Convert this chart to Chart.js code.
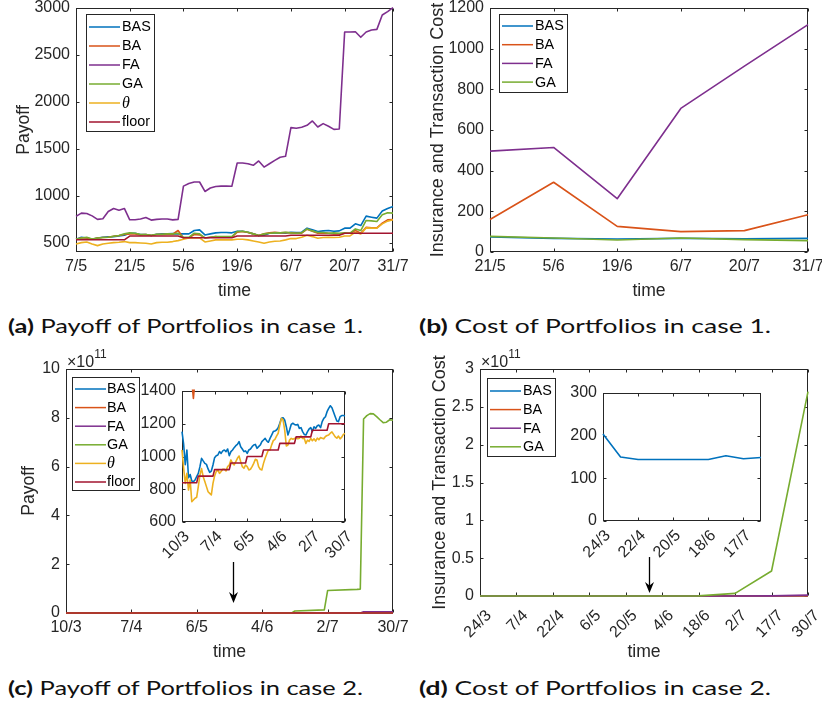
<!DOCTYPE html>
<html>
<head>
<meta charset="utf-8">
<title>Payoff and cost of portfolios</title>
<script src="https://cdn.jsdelivr.net/npm/chart.js@4.4.1/dist/chart.umd.min.js"></script>
<style>
html, body { margin: 0; padding: 0; background: #fff; }
#fig { position: relative; width: 822px; height: 711px; overflow: hidden; background: #fff; }
#fig canvas { position: absolute; left: 0; top: 0; }
.cap { position: absolute; font-family: Lato, "Noto Sans", sans-serif; font-size: 19px; line-height: 24px;
       color: #111; white-space: nowrap; transform-origin: 0 50%; }
.cap b { font-weight: 700; }
</style>
</head>
<body>
<div id="fig">
  <div class="cap" data-w="355" style="left:8px;top:314px"><b>(a)</b> Payoff of Portfolios in case 1.</div>
  <div class="cap" data-w="352" style="left:419px;top:314px"><b>(b)</b> Cost of Portfolios in case 1.</div>
  <div class="cap" data-w="355" style="left:8px;top:676px"><b>(c)</b> Payoff of Portfolios in case 2.</div>
  <div class="cap" data-w="352" style="left:419px;top:676px"><b>(d)</b> Cost of Portfolios in case 2.</div>
</div>
<script>
// ---------- case 1: payoff (daily) ----------
const payoffDates1 = ['7/5', '21/5', '5/6', '19/6', '6/7', '20/7', '31/7'];
const payoffDateIdx1 = [0, 10, 20, 30, 40, 50, 59];
const payoffBAS1 = [536, 557, 550, 536, 550, 557, 561, 564, 571, 579,
  600, 600, 586, 586, 575, 589, 593, 593, 596, 593,
  593, 593, 629, 636, 582, 593, 604, 607, 607, 604,
  621, 621, 611, 593, 575, 579, 600, 604, 604, 600,
  611, 607, 611, 654, 636, 618, 625, 629, 621, 625,
  654, 654, 700, 682, 782, 771, 761, 836, 864, 886];
const payoffBA1 = [536, 550, 550, 536, 550, 554, 557, 568, 575, 586,
  593, 593, 582, 586, 575, 586, 586, 589, 589, 629,
  550, 550, 586, 582, 550, 557, 564, 557, 557, 557,
  611, 618, 607, 593, 575, 593, 604, 611, 604, 607,
  604, 600, 600, 643, 621, 600, 604, 600, 593, 593,
  600, 600, 629, 600, 664, 657, 657, 707, 743, 746];
const payoffFA1 = [779, 814, 811, 785, 748, 754, 832, 864, 846, 864,
  743, 743, 752, 768, 740, 748, 752, 752, 742, 748,
  1102, 1130, 1146, 1146, 1045, 1082, 1098, 1102, 1102, 1100,
  1348, 1348, 1340, 1324, 1370, 1305, 1340, 1376, 1410, 1420,
  1725, 1718, 1730, 1750, 1796, 1732, 1768, 1740, 1707, 1710,
  2744, 2744, 2747, 2688, 2744, 2765, 2772, 2925, 2962, 3005];
const payoffGA1 = [536, 550, 557, 539, 550, 554, 557, 568, 575, 593,
  604, 600, 586, 586, 579, 589, 589, 593, 593, 600,
  557, 557, 600, 593, 550, 557, 564, 564, 564, 564,
  618, 621, 611, 593, 575, 593, 600, 604, 604, 611,
  604, 600, 604, 646, 625, 607, 607, 600, 604, 600,
  604, 600, 646, 629, 736, 732, 725, 796, 818, 814];
const payoffTheta1 = [486, 500, 507, 486, 468, 486, 493, 500, 504, 511,
  500, 500, 496, 493, 486, 500, 504, 504, 511, 521,
  536, 550, 550, 550, 507, 518, 529, 529, 529, 529,
  536, 536, 529, 518, 507, 493, 507, 514, 518, 529,
  543, 543, 557, 579, 564, 546, 554, 557, 554, 557,
  571, 571, 611, 593, 657, 654, 654, 700, 729, 743];
const payoffFloor1 = [530, 530, 530, 530, 530, 530, 530, 530, 530, 530,
  570, 570, 570, 570, 570, 570, 570, 570, 570, 570,
  552, 552, 552, 552, 552, 552, 552, 552, 552, 552,
  570, 570, 570, 570, 570, 570, 570, 570, 570, 570,
  578, 578, 578, 578, 578, 578, 578, 578, 578, 578,
  600, 600, 600, 600, 600, 600, 600, 600, 600, 600];

// ---------- case 1: insurance and transaction cost ----------
const costDates1 = ['21/5', '5/6', '19/6', '6/7', '20/7', '31/7'];
const costBAS1 = [74, 67, 64, 67, 65, 67];
const costBA1 = [160, 343, 126, 100, 105, 183];
const costFA1 = [496, 514, 262, 706, 914, 1118];
const costGA1 = [77, 69, 59, 69, 61, 56];

// ---------- case 2: payoff (daily) ----------
const payoffDates2 = ['10/3', '7/4', '6/5', '4/6', '2/7', '30/7'];
const payoffDateIdx2 = [0, 20, 40, 60, 80, 100];
const payoffBAS2 = [1152, 1075, 950, 1040, 870, 890, 850,
  846, 857, 877, 897, 938, 989, 973, 958, 952, 924,
  903, 911, 948, 993, 1005, 1009, 1030, 1019, 1034, 1040,
  1030, 1046, 1005, 1030, 1040, 1054, 1066, 1074, 1091, 1060,
  1046, 1030, 1034, 1019, 1040, 1046, 1060, 1070, 1074, 1050,
  1060, 1070, 1091, 1101, 1111, 1095, 1087, 1111, 1131, 1152,
  1156, 1162, 1176, 1203, 1233, 1237, 1223, 1182, 1131, 1162,
  1196, 1203, 1196, 1192, 1196, 1172, 1176, 1152, 1135, 1131,
  1152, 1168, 1176, 1152, 1182, 1172, 1188, 1192, 1176, 1213,
  1233, 1243, 1274, 1294, 1310, 1298, 1270, 1243, 1217, 1213,
  1243, 1250, 1250, 1248];
const payoffTheta2 = [1040, 930, 836, 897, 795, 857, 724,
  734, 745, 751, 816, 887, 926, 877, 847, 816, 785,
  775, 765, 836, 881, 908, 918, 897, 908, 922, 922,
  912, 938, 948, 979, 958, 948, 969, 989, 1003, 969,
  938, 928, 948, 938, 918, 922, 938, 958, 983, 979,
  938, 922, 918, 958, 989, 1015, 1040, 1040, 1071, 1097,
  1105, 1125, 1142, 1192, 1233, 1223, 1162, 1064,
  1070, 1100, 1111, 1105, 1110, 1115, 1108, 1112, 1125, 1110,
  1112, 1080, 1100, 1092, 1110, 1096, 1108, 1094, 1112, 1102,
  1116, 1112, 1108, 1122, 1128, 1132, 1142, 1150, 1135, 1120,
  1112, 1125, 1108, 1118, 1135, 1141];
const payoffFloor2 = [840, 840, 840, 840, 840, 840, 840, 840, 840, 840,
  880, 880, 880, 880, 880, 880, 880, 880, 880, 880,
  920, 920, 920, 920, 920, 920, 920, 920, 920, 920,
  960, 960, 960, 960, 960, 960, 960, 960, 960, 960,
  1000, 1000, 1000, 1000, 1000, 1000, 1000, 1000, 1000, 1000,
  1040, 1040, 1040, 1040, 1040, 1040, 1040, 1040, 1040, 1040,
  1080, 1080, 1080, 1080, 1080, 1080, 1080, 1080, 1080, 1080,
  1120, 1120, 1120, 1120, 1120, 1120, 1120, 1120, 1120, 1120,
  1160, 1160, 1160, 1160, 1160, 1160, 1160, 1160, 1160, 1160,
  1200, 1200, 1200, 1200, 1200, 1200, 1200, 1200, 1200, 1200, 1200];
// sparse series as [day index, value]
const payoffBA2 = [[6, 1460], [7, 1355], [8, 1470]];
const payoffFA2 = [[0, 0], [90, 0], [91, 5e9], [100, 5e9]];
const payoffGA2 = [[0, 0], [69, 0], [70, 0.08e11], [79, 0.13e11], [80, 0.92e11], [89, 0.97e11],
  [90, 0.98e11], [91, 7.95e11], [92, 8.09e11], [93, 8.17e11], [94, 8.16e11], [95, 8.05e11],
  [96, 7.92e11], [97, 7.80e11], [98, 7.82e11], [99, 7.92e11], [100, 7.90e11]];

// ---------- case 2: insurance and transaction cost ----------
const costDates2 = ['24/3', '7/4', '22/4', '6/5', '20/5', '4/6', '18/6', '2/7', '17/7', '30/7'];
const costBAS2 = [204, 150, 144, 144, 144, 144, 144, 153, 146, 149];
const costBA2 = [0, 0, 0, 0, 0, 0, 0, 0, 0, 0];
const costFA2 = [0, 0, 0, 0, 0, 0, 0, 0.0005e11, 0.002e11, 0.012e11];
const costGA2 = [0, 0, 0, 0, 0, 0, 0.002e11, 0.035e11, 0.33e11, 2.70e11];

// ---------- drawing ----------
const W = 822, H = 711;
const AXIS = '#262626';
const FONT = '"Liberation Sans", Arial, Helvetica, sans-serif';
const COL = { BAS: '#0072BD', BA: '#D95319', FA: '#7E2F8E', GA: '#77AC30', TH: '#EDB120', FL: '#A2142F' };

const seq = arr => arr.map((v, i) => ({ x: i, y: v }));
const pairs = arr => arr.map(p => ({ x: p[0], y: p[1] }));
const range = n => Array.from({ length: n }, (_, i) => i);

function framePlugin(spec) {
  return {
    id: 'frame',
    beforeDraw(chart) {
      if (!spec.inset) return;
      const a = chart.chartArea, ctx = chart.ctx;
      ctx.save();
      ctx.fillStyle = '#fff';
      ctx.fillRect(a.left, a.top, a.right - a.left, a.bottom - a.top);
      ctx.restore();
    },
    // box and inward ticks sit under the data lines
    beforeDatasetsDraw(chart) {
      const ctx = chart.ctx, a = chart.chartArea, xs = chart.scales.x, ys = chart.scales.y;
      ctx.save();
      const L = Math.round(a.left) + 0.5, R = Math.round(a.right) - 0.5;
      const T = Math.round(a.top) + 0.5, B = Math.round(a.bottom) - 0.5;
      const tl = 3;
      ctx.strokeStyle = AXIS; ctx.lineWidth = 1;
      ctx.strokeRect(L, T, R - L, B - T);
      ctx.beginPath();
      xs.ticks.forEach(t => {
        const p = Math.round(xs.getPixelForValue(t.value)) + 0.5;
        ctx.moveTo(p, B); ctx.lineTo(p, B - tl);
        ctx.moveTo(p, T); ctx.lineTo(p, T + tl);
      });
      ys.ticks.forEach(t => {
        const p = Math.round(ys.getPixelForValue(t.value)) + 0.5;
        ctx.moveTo(L, p); ctx.lineTo(L + tl, p);
        ctx.moveTo(R, p); ctx.lineTo(R - tl, p);
      });
      ctx.stroke();

      // rotated date labels
      if (spec.x.rot) {
        ctx.fillStyle = AXIS;
        ctx.font = '16px ' + FONT;
        ctx.textAlign = 'right';
        ctx.textBaseline = 'middle';
        xs.ticks.forEach((t, i) => {
          const p = xs.getPixelForValue(t.value);
          ctx.save();
          ctx.translate(p + spec.x.dx, a.bottom + spec.x.dy);
          ctx.rotate(-Math.PI / 4);
          ctx.fillText(spec.x.labels[i], 0, 0);
          ctx.restore();
        });
      }

      // axis titles
      ctx.fillStyle = AXIS;
      if (spec.xTitle) {
        ctx.font = '17.6px ' + FONT;
        ctx.textAlign = 'center'; ctx.textBaseline = 'alphabetic';
        ctx.fillText(spec.xTitle.text, (a.left + a.right) / 2, spec.xTitle.y);
      }
      if (spec.yTitle) {
        ctx.save();
        ctx.font = (spec.yTitle.size || 17.6) + 'px ' + FONT;
        ctx.translate(spec.yTitle.x, (a.top + a.bottom) / 2);
        ctx.rotate(-Math.PI / 2);
        ctx.textAlign = 'center'; ctx.textBaseline = 'middle';
        ctx.fillText(spec.yTitle.text, 0, 0);
        ctx.restore();
      }

      // exponent of the y axis
      if (spec.exponent) {
        ctx.textAlign = 'left'; ctx.textBaseline = 'alphabetic';
        ctx.font = '16px ' + FONT;
        const x0 = a.left + 1, y0 = a.top - 2;
        ctx.fillText('\u00d710', x0, y0);
        const w = ctx.measureText('\u00d710').width;
        ctx.font = '12px ' + FONT;
        ctx.fillText(spec.exponent, x0 + w, y0 - 9);
      }
      ctx.restore();
    },
    afterDatasetsDraw(chart) {
      const ctx = chart.ctx, xs = chart.scales.x, ys = chart.scales.y;
      ctx.save();
      // arrow annotation
      if (spec.arrow) {
        const px = Math.round(xs.getPixelForValue(spec.arrow.x)) + 0.5;
        const p1 = ys.getPixelForValue(spec.arrow.y1), p2 = ys.getPixelForValue(spec.arrow.y2);
        ctx.strokeStyle = '#000'; ctx.fillStyle = '#000'; ctx.lineWidth = 1.3;
        ctx.beginPath(); ctx.moveTo(px, p1); ctx.lineTo(px, p2 - 6); ctx.stroke();
        ctx.beginPath();
        ctx.moveTo(px, p2); ctx.lineTo(px - 4.5, p2 - 11); ctx.lineTo(px, p2 - 7.5); ctx.lineTo(px + 4.5, p2 - 11);
        ctx.closePath(); ctx.fill();
      }

      // legend box
      if (spec.legend) {
        const lg = spec.legend;
        ctx.fillStyle = '#fff';
        ctx.fillRect(lg.x, lg.y, lg.w, lg.h);
        ctx.strokeStyle = AXIS; ctx.lineWidth = 1;
        ctx.strokeRect(lg.x + 0.5, lg.y + 0.5, lg.w, lg.h);
        spec.lines.forEach((s, i) => {
          const y = lg.y0 + i * lg.dy;
          ctx.strokeStyle = s.color; ctx.lineWidth = 1.5;
          ctx.beginPath(); ctx.moveTo(lg.x1, y); ctx.lineTo(lg.x2, y); ctx.stroke();
          ctx.fillStyle = '#000';
          ctx.font = s.italic ? 'italic 16px "Liberation Serif", "DejaVu Serif", serif' : '14.4px ' + FONT;
          ctx.textAlign = 'left'; ctx.textBaseline = 'middle';
          ctx.fillText(s.label, lg.tx, y + 0.5);
        });
      }
      ctx.restore();
    }
  };
}

function makeChart(spec) {
  const cv = document.createElement('canvas');
  cv.width = W; cv.height = H;
  cv.style.width = W + 'px'; cv.style.height = H + 'px';
  document.getElementById('fig').appendChild(cv);
  const YW = 50, XH = 40;
  const a = spec.area;
  const n = spec.plot.length;
  const datasets = spec.plot.map((s, i) => ({
    label: s.label, data: s.data, borderColor: s.color, backgroundColor: s.color,
    borderWidth: 1.6, borderJoinStyle: 'round', pointRadius: 0, pointHoverRadius: 0,
    tension: 0, fill: false, order: n - i, clip: 1.5
  }));
  const tickFont = { family: FONT, size: 16 };
  const zeroPad = s => { s.paddingLeft = 0; s.paddingRight = 0; s.paddingTop = 0; s.paddingBottom = 0; };
  new Chart(cv, {
    type: 'line',
    data: { datasets },
    options: {
      responsive: false, animation: false, events: [],
      layout: { padding: { left: a.l - YW, top: a.t, right: W - a.r, bottom: H - a.b - XH } },
      plugins: { legend: { display: false }, tooltip: { enabled: false } },
      scales: {
        x: {
          type: 'linear', min: spec.x.min, max: spec.x.max, bounds: 'data',
          grid: { display: false, drawTicks: false }, border: { display: false },
          afterBuildTicks: s => { s.ticks = spec.x.ticks.map(v => ({ value: v })); },
          afterFit: s => { s.height = XH; zeroPad(s); },
          ticks: {
            display: !spec.x.rot, autoSkip: false, maxRotation: 0, minRotation: 0,
            padding: 5, color: AXIS, font: tickFont,
            callback: (v, i) => spec.x.labels[i]
          }
        },
        y: {
          type: 'linear', min: spec.y.min, max: spec.y.max, bounds: 'data',
          grid: { display: false, drawTicks: false }, border: { display: false },
          afterBuildTicks: s => { s.ticks = spec.y.ticks.map(v => ({ value: v })); },
          afterFit: s => { s.width = YW; zeroPad(s); },
          ticks: {
            autoSkip: false, padding: 6, color: AXIS, font: tickFont,
            callback: v => spec.y.fmt ? spec.y.fmt(v) : String(v)
          }
        }
      }
    },
    plugins: [framePlugin(spec)]
  });
}

const e11 = v => String(Math.round(v / 1e10) / 10);

// (a) payoff, case 1
const linesA = [
  { label: 'BAS', color: COL.BAS, data: seq(payoffBAS1) },
  { label: 'BA', color: COL.BA, data: seq(payoffBA1) },
  { label: 'FA', color: COL.FA, data: seq(payoffFA1) },
  { label: 'GA', color: COL.GA, data: seq(payoffGA1) },
  { label: '\u03b8', color: COL.TH, data: seq(payoffTheta1), italic: true },
  { label: 'floor', color: COL.FL, data: seq(payoffFloor1) }
];
makeChart({
  area: { l: 76, t: 8, r: 393, b: 252 },
  x: { min: 0, max: 59, ticks: payoffDateIdx1, labels: payoffDates1 },
  y: { min: 400, max: 3000, ticks: [500, 1000, 1500, 2000, 2500, 3000] },
  plot: linesA, lines: linesA,
  legend: { x: 86, y: 14, w: 68, h: 117, y0: 27, dy: 19, x1: 89, x2: 120, tx: 122 },
  xTitle: { text: 'time', y: 296 }, yTitle: { text: 'Payoff', x: 24 }
});

// (b) cost, case 1
const linesB = [
  { label: 'BAS', color: COL.BAS, data: seq(costBAS1) },
  { label: 'BA', color: COL.BA, data: seq(costBA1) },
  { label: 'FA', color: COL.FA, data: seq(costFA1) },
  { label: 'GA', color: COL.GA, data: seq(costGA1) }
];
makeChart({
  area: { l: 490, t: 8, r: 808, b: 252 },
  x: { min: 0, max: costDates1.length - 1, ticks: range(costDates1.length), labels: costDates1 },
  y: { min: 0, max: 1200, ticks: [0, 200, 400, 600, 800, 1000, 1200] },
  plot: linesB, lines: linesB,
  legend: { x: 499, y: 14, w: 68, h: 78, y0: 26, dy: 18.7, x1: 502, x2: 533, tx: 535 },
  xTitle: { text: 'time', y: 296 }, yTitle: { text: 'Insurance and Transaction Cost', x: 438, size: 18 }
});

// (c) payoff, case 2
const linesC = [
  { label: 'BAS', color: COL.BAS, data: seq(payoffBAS2) },
  { label: 'BA', color: COL.BA, data: pairs(payoffBA2) },
  { label: 'FA', color: COL.FA, data: pairs(payoffFA2) },
  { label: 'GA', color: COL.GA, data: pairs(payoffGA2) },
  { label: '\u03b8', color: COL.TH, data: seq(payoffTheta2), italic: true },
  { label: 'floor', color: COL.FL, data: seq(payoffFloor2) }
];
makeChart({
  area: { l: 66, t: 369, r: 393, b: 613 },
  x: { min: 0, max: 100, ticks: payoffDateIdx2, labels: payoffDates2 },
  y: { min: 0, max: 10e11, ticks: [0, 2e11, 4e11, 6e11, 8e11, 10e11], fmt: e11 },
  plot: linesC, lines: linesC,
  legend: { x: 72, y: 377, w: 67, h: 113, y0: 389, dy: 18.6, x1: 75, x2: 106, tx: 107 },
  xTitle: { text: 'time', y: 657 }, yTitle: { text: 'Payoff', x: 29 },
  exponent: '11', arrow: { x: 51, y1: 2.09e11, y2: 0.41e11 }
});
// (c) zoomed inset
makeChart({
  inset: true,
  area: { l: 182, t: 391, r: 345, b: 522 },
  x: { min: 0, max: 100, ticks: payoffDateIdx2, labels: payoffDates2, rot: 45, dx: 5, dy: 12 },
  y: { min: 600, max: 1400, ticks: [600, 800, 1000, 1200, 1400] },
  plot: [
    { label: 'BAS', color: COL.BAS, data: seq(payoffBAS2) },
    { label: 'BA', color: COL.BA, data: pairs(payoffBA2) },
    { label: '\u03b8', color: COL.TH, data: seq(payoffTheta2) },
    { label: 'floor', color: COL.FL, data: seq(payoffFloor2) }
  ]
});

// (d) cost, case 2
const linesD = [
  { label: 'BAS', color: COL.BAS, data: seq(costBAS2) },
  { label: 'BA', color: COL.BA, data: seq(costBA2) },
  { label: 'FA', color: COL.FA, data: seq(costFA2) },
  { label: 'GA', color: COL.GA, data: seq(costGA2) }
];
makeChart({
  area: { l: 480, t: 369, r: 808, b: 596 },
  x: { min: 0, max: costDates2.length - 1, ticks: range(costDates2.length), labels: costDates2, rot: 45, dx: 9, dy: 17 },
  y: { min: 0, max: 3e11, ticks: [0, 0.5e11, 1e11, 1.5e11, 2e11, 2.5e11, 3e11], fmt: e11 },
  plot: linesD, lines: linesD,
  legend: { x: 487, y: 378, w: 68, h: 78, y0: 391, dy: 18.6, x1: 490, x2: 521, tx: 523 },
  xTitle: { text: 'time', y: 657 }, yTitle: { text: 'Insurance and Transaction Cost', x: 440, size: 18 },
  exponent: '11', arrow: { x: 4.64, y1: 0.515e11, y2: 0.04e11 }
});
// (d) zoomed inset
makeChart({
  inset: true,
  area: { l: 603, t: 393, r: 761, b: 521 },
  x: { min: 0, max: costDates2.length - 1, ticks: [0, 2, 4, 6, 8], labels: [0, 2, 4, 6, 8].map(i => costDates2[i]), rot: 45, dx: 5, dy: 12 },
  y: { min: 0, max: 300, ticks: [0, 100, 200, 300] },
  plot: [{ label: 'BAS', color: COL.BAS, data: seq(costBAS2) }]
});

// captions: fit each line to its measured width
document.querySelectorAll('.cap').forEach(el => {
  const target = parseFloat(el.dataset.w);
  const w = el.getBoundingClientRect().width;
  if (w > 0) el.style.transform = 'scaleX(' + (target / w).toFixed(4) + ')';
});
</script>
</body>
</html>
